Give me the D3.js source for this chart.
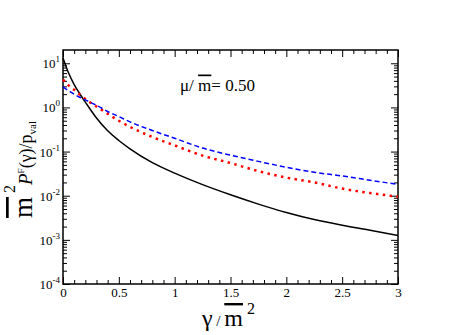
<!DOCTYPE html>
<html>
<head>
<meta charset="utf-8">
<script src="https://cdn.jsdelivr.net/npm/d3@7"></script>
<style>
  body { margin: 0; background: #fff; }
</style>
</head>
<body>
<div id="chart"></div>
<script>
// setting up constants
const FRAME_WIDTH = 474;
const FRAME_HEIGHT = 335;
const MARGINS = {left: 63, right: 76, top: 50, bottom: 51};
const VIS_WIDTH = FRAME_WIDTH - MARGINS.left - MARGINS.right;
const VIS_HEIGHT = FRAME_HEIGHT - MARGINS.top - MARGINS.bottom;
const SERIF = "Liberation Serif";

// data
const gamma = [0, 0.05, 0.1, 0.15, 0.2, 0.3, 0.4, 0.5, 0.6, 0.8, 1.0, 1.25, 1.5, 1.75, 2.0, 2.25, 2.5, 2.75, 3.0];
const solidBlack = [13.2, 6.0, 3.3, 2.04, 1.32, 0.575, 0.295, 0.178, 0.115, 0.056, 0.0324, 0.0178, 0.0105, 0.00646, 0.00417, 0.00288, 0.00214, 0.00166, 0.00126];
const dottedRed = [4.27, 3.16, 2.51, 1.95, 1.55, 1.05, 0.72, 0.50, 0.363, 0.214, 0.138, 0.081, 0.055, 0.036, 0.0257, 0.020, 0.0145, 0.0115, 0.0095];
const dashedBlue = [2.88, 2.40, 2.0, 1.70, 1.48, 1.12, 0.81, 0.62, 0.47, 0.30, 0.20, 0.12, 0.083, 0.060, 0.044, 0.034, 0.028, 0.0224, 0.018];

const xMajor = [0, 0.5, 1, 1.5, 2, 2.5, 3];
const xLabels = ["0", "0.5", "1", "1.5", "2", "2.5", "3"];
const yExponents = [-4, -3, -2, -1, 0, 1];

const FRAME = d3.select("#chart")
  .append("svg")
  .attr("width", FRAME_WIDTH)
  .attr("height", FRAME_HEIGHT)
  .attr("font-family", SERIF);

const xScale = d3.scaleLinear().domain([0, 3]).range([0, VIS_WIDTH]);
const yScale = d3.scaleLog().domain([1e-4, 20]).range([VIS_HEIGHT, 0]);

const g = FRAME.append("g")
  .attr("transform", "translate(" + MARGINS.left + "," + MARGINS.top + ")");

// minor tick values
const xMinor = d3.range(0, 31).map(i => i / 10).filter(v => !xMajor.some(m => Math.abs(m - v) < 1e-9));
const yMajor = yExponents.map(e => Math.pow(10, e));
const yMinor = [];
for (let e = -4; e <= 0; e++) {
  for (let k = 2; k <= 9; k++) yMinor.push(k * Math.pow(10, e));
}

function styleAxis(sel) {
  sel.attr("font-family", SERIF);
  sel.select(".domain").remove();
  sel.selectAll("line").attr("stroke", "#000").attr("stroke-width", 1);
}

// bottom axis
g.append("g")
  .attr("transform", "translate(0," + VIS_HEIGHT + ")")
  .call(d3.axisBottom(xScale).tickValues(xMajor).tickSize(-7).tickPadding(4)
    .tickFormat((d, i) => xLabels[i]))
  .call(styleAxis)
  .call(s => s.selectAll("text").attr("font-size", 13).attr("fill", "#000")
    .attr("font-family", SERIF));
g.append("g")
  .attr("transform", "translate(0," + VIS_HEIGHT + ")")
  .call(d3.axisBottom(xScale).tickValues(xMinor).tickSize(-4).tickFormat(""))
  .call(styleAxis);

// top axis
g.append("g")
  .call(d3.axisTop(xScale).tickValues(xMajor).tickSize(-7).tickFormat(""))
  .call(styleAxis);
g.append("g")
  .call(d3.axisTop(xScale).tickValues(xMinor).tickSize(-4).tickFormat(""))
  .call(styleAxis);

// left axis
g.append("g")
  .call(d3.axisLeft(yScale).tickValues(yMajor).tickSize(-7).tickFormat(""))
  .call(styleAxis);
g.append("g")
  .call(d3.axisLeft(yScale).tickValues(yMinor).tickSize(-4).tickFormat(""))
  .call(styleAxis);

// right axis
g.append("g")
  .attr("transform", "translate(" + VIS_WIDTH + ",0)")
  .call(d3.axisRight(yScale).tickValues(yMajor).tickSize(-7).tickFormat(""))
  .call(styleAxis);
g.append("g")
  .attr("transform", "translate(" + VIS_WIDTH + ",0)")
  .call(d3.axisRight(yScale).tickValues(yMinor).tickSize(-4).tickFormat(""))
  .call(styleAxis);

// y tick labels 10^n
const yLab = g.selectAll(".ylab")
  .data(yExponents)
  .enter()
  .append("text")
  .attr("class", "ylab")
  .attr("x", -3)
  .attr("y", d => yScale(Math.pow(10, d)) + 5)
  .attr("text-anchor", "end")
  .attr("font-size", 13)
  .attr("font-family", SERIF)
  .attr("fill", "#000");
yLab.append("tspan").text("10");
yLab.append("tspan").attr("dy", -6).attr("font-size", 9).text(d => String(d));

// frame
g.append("rect")
  .attr("x", 0).attr("y", 0)
  .attr("width", VIS_WIDTH).attr("height", VIS_HEIGHT)
  .attr("fill", "none").attr("stroke", "#000").attr("stroke-width", 1.5);

// curves
const line = (vals) => d3.line()
  .x((d, i) => xScale(gamma[i]))
  .y(d => yScale(d))
  .curve(d3.curveMonotoneX)(vals);

g.append("path")
  .attr("d", line(solidBlack))
  .attr("fill", "none").attr("stroke", "#000").attr("stroke-width", 1.5);

g.append("path")
  .attr("d", line(dottedRed))
  .attr("fill", "none").attr("stroke", "#ff0000").attr("stroke-width", 2.5)
  .attr("stroke-dasharray", "2.5 4.4");

g.append("path")
  .attr("d", line(dashedBlue))
  .attr("fill", "none").attr("stroke", "#0000ff").attr("stroke-width", 1.5)
  .attr("stroke-dasharray", "5 3");

// annotation
const ann = FRAME.append("text")
  .attr("x", 180).attr("y", 90.5)
  .attr("font-size", 17).attr("font-family", SERIF).attr("fill", "#000");
ann.append("tspan").text("\u03bc/ ");
ann.append("tspan").attr("text-decoration", "overline").text("m");
ann.append("tspan").text("= 0.50");

// x axis title
const xt = FRAME.append("text")
  .attr("x", 202).attr("y", 326)
  .attr("font-family", SERIF)
  .attr("fill", "#000");
xt.append("tspan").attr("font-size", 24).text("\u03b3");
xt.append("tspan").attr("font-size", 15).text(" / ");
xt.append("tspan").attr("font-size", 24).attr("text-decoration", "overline").text("m");
xt.append("tspan").attr("font-size", 16).attr("dy", -12).text(" 2");

// y axis title
const yt = FRAME.append("text")
  .attr("transform", "translate(32,218) rotate(-90)")
  .attr("font-family", SERIF)
  .attr("fill", "#000");
yt.append("tspan").attr("font-size", 27).attr("text-decoration", "overline").text("m");
yt.append("tspan").attr("font-size", 16).attr("dy", -17).text(" 2");
yt.append("tspan").attr("font-size", 19).attr("dy", 17).attr("font-style", "italic").text("P");
yt.append("tspan").attr("font-size", 9).attr("dy", -8).text("F");
yt.append("tspan").attr("font-size", 18).attr("dy", 8).text("(\u03b3)/p");
yt.append("tspan").attr("font-size", 11).attr("dy", 4).text("val");
</script>
</body>
</html>
